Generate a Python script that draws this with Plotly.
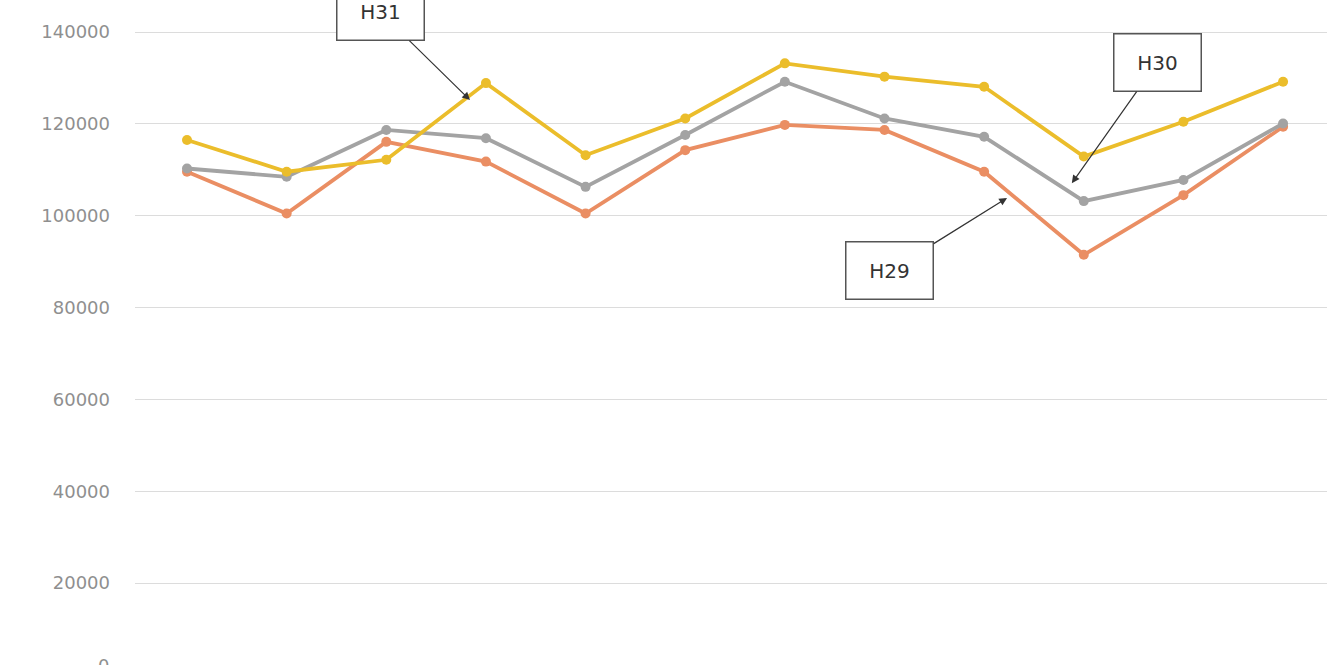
import plotly.graph_objects as go

months = ["4月", "5月", "6月", "7月", "8月", "9月", "10月", "11月", "12月", "1月", "2月", "3月"]
h29 = [109600, 100500, 116100, 111800, 100500, 114300, 119800, 118700, 109600, 91500, 104500, 119400]
h30 = [110300, 108500, 118700, 116900, 106300, 117600, 129200, 121200, 117200, 103200, 107800, 120100]
h31 = [116500, 109600, 112200, 128900, 113200, 121200, 133200, 130300, 128100, 112900, 120500, 129200]
y_ticks = [0, 20000, 40000, 60000, 80000, 100000, 120000, 140000]

series = [("H29", h29, "#EA8E63"), ("H30", h30, "#A3A3A3"), ("H31", h31, "#EBBD2B")]

fig = go.Figure()
for name, vals, col in series:
    fig.add_trace(go.Scatter(
        x=list(range(len(months))), y=vals, name=name, mode="lines+markers",
        line=dict(color=col, width=3.8),
        marker=dict(color=col, size=10, symbol="circle"),
        showlegend=False, cliponaxis=False,
    ))

tick_font = dict(family="DejaVu Sans, sans-serif", size=18, color="#8f8f8f")

fig.update_layout(
    width=1327, height=665,
    margin=dict(l=135, r=0, t=0, b=0),
    paper_bgcolor="white", plot_bgcolor="white",
    xaxis=dict(range=[-0.522, 11.441], showgrid=False, showticklabels=False,
               zeroline=False, showline=False, ticks=""),
    yaxis=dict(range=[2178, 146995], tickvals=y_ticks,
               ticktext=[f"{v}" for v in y_ticks],
               showgrid=True, gridcolor="#DCDCDC", gridwidth=1.2,
               zeroline=False, showline=False, ticks="",
               tickfont=tick_font, ticklabelstandoff=24),
)

# partially visible "0" label at the bottom edge
fig.add_annotation(text="0", xref="paper", yref="paper", x=0, y=0.0,
                   xanchor="right", yanchor="middle", xshift=-24,
                   showarrow=False, font=tick_font)

box_font = dict(family="DejaVu Sans, sans-serif", size=20, color="#333333")
callouts = [
    # label, tip x (category index), tip y (value), box centre x, box centre y
    ("H31", 2.84, 125200, 1.937, 144400),
    ("H30", 8.88, 107100, 9.735, 133300),
    ("H29", 8.23, 103900, 7.055, 88000),
]
for label, tx, ty, bx, by in callouts:
    fig.add_annotation(
        text=label, x=tx, y=ty, ax=bx, ay=by, axref="x", ayref="y",
        xref="x", yref="y", showarrow=True, arrowhead=2, arrowsize=1.3,
        arrowwidth=1.2, arrowcolor="#333333",
        bordercolor="#555555", borderwidth=1.5, bgcolor="white",
        width=84, height=54, align="center", valign="middle",
        font=box_font,
    )

fig.write_html("out.html")
